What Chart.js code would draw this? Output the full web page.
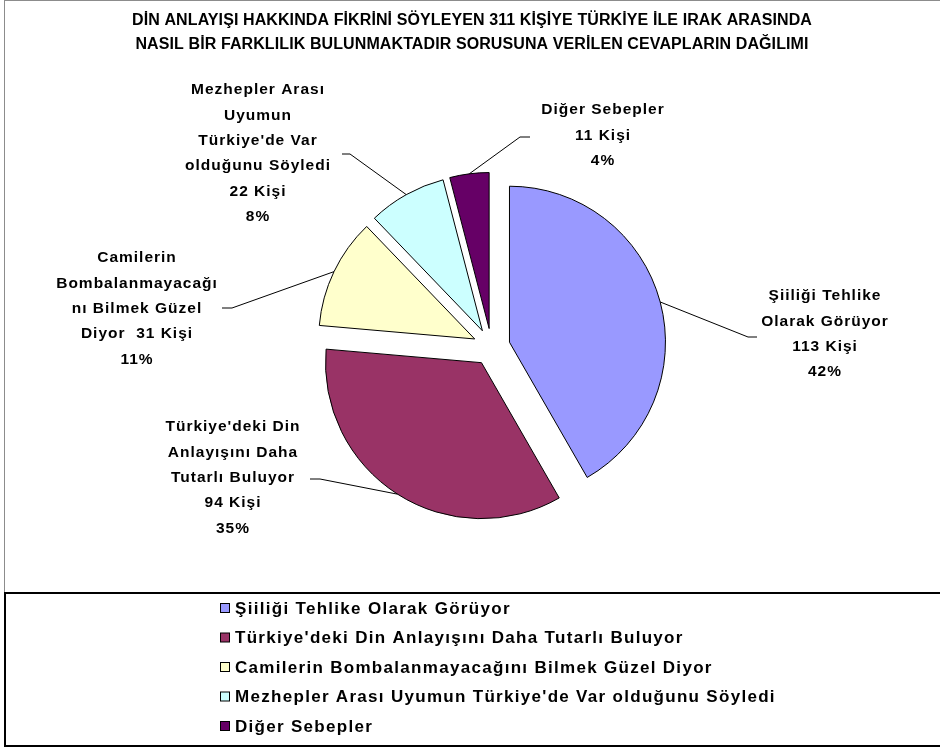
<!DOCTYPE html>
<html lang="tr">
<head>
<meta charset="utf-8">
<title>Din Anlayışı Dağılımı</title>
<script src="https://cdn.jsdelivr.net/npm/chart.js@4.4.7/dist/chart.umd.min.js"></script>
<style>
  html, body { margin: 0; padding: 0; background: #fff; }
  #wrap { position: relative; width: 940px; height: 749px; }
</style>
</head>
<body>
<div id="wrap"><canvas id="pieChart" width="940" height="749"></canvas></div>
<script>
// ===== データ =====
const categories = [
  'Şiiliği Tehlike Olarak Görüyor',
  "Türkiye'deki Din Anlayışını Daha Tutarlı Buluyor",
  'Camilerin Bombalanmayacağını Bilmek Güzel Diyor',
  "Mezhepler Arası Uyumun Türkiye'de Var olduğunu Söyledi",
  'Diğer Sebepler'
];
const counts = [113, 94, 31, 22, 11];
const sliceColors = ['#9999FF', '#993366', '#FFFFCC', '#CCFFFF', '#660066'];
const titleLines = [
  'DİN ANLAYIŞI HAKKINDA FİKRİNİ SÖYLEYEN 311 KİŞİYE TÜRKİYE İLE IRAK ARASINDA',
  'NASIL BİR FARKLILIK BULUNMAKTADIR SORUSUNA VERİLEN CEVAPLARIN DAĞILIMI'
];
// {n} = kişi sayısı, {p} = yüzde
const calloutText = [
  ['Şiiliği Tehlike', 'Olarak Görüyor', '{n} Kişi', '{p}'],
  ["Türkiye'deki Din", 'Anlayışını Daha', 'Tutarlı Buluyor', '{n} Kişi', '{p}'],
  ['Camilerin', 'Bombalanmayacağı', 'nı Bilmek Güzel', 'Diyor  {n} Kişi', '{p}'],
  ['Mezhepler Arası', 'Uyumun', "Türkiye'de Var", 'olduğunu Söyledi', '{n} Kişi', '{p}'],
  ['Diğer Sebepler', '{n} Kişi', '{p}']
];

// ===== レイアウト =====
const FONT = '"Liberation Sans", Arial, sans-serif';
const EXPLODE = 18.6;
const LINE_H = 25.4;
// 注記の位置（中心x, 1行目y）と引出線の折れ点・終点
const calloutLayout = [
  { x: 825, y: 296, elbow: [748, 337], end: [757, 337] },
  { x: 233, y: 427, elbow: [320, 479], end: [310, 479] },
  { x: 137, y: 258, elbow: [232, 308], end: [222, 308] },
  { x: 258, y: 90,  elbow: [350, 154], end: [342, 154] },
  { x: 603, y: 110, elbow: [520, 137], end: [530, 137] }
];

const total = counts.reduce((a, b) => a + b, 0);
const pct = v => Math.round(v / total * 100) + '%';

// ===== 切り離し（各スライスを中心角方向へずらす） =====
const explodePlugin = {
  id: 'explode',
  afterDatasetsUpdate(chart) {
    chart.getDatasetMeta(0).data.forEach(arc => {
      const mid = (arc.startAngle + arc.endAngle) / 2;
      arc.x += Math.cos(mid) * EXPLODE;
      arc.y += Math.sin(mid) * EXPLODE;
    });
  }
};

// ===== 枠・タイトル・凡例 =====
const framePlugin = {
  id: 'frame',
  beforeDraw(chart) {
    const c = chart.ctx;
    c.save();
    c.fillStyle = '#fff';
    c.fillRect(0, 0, chart.width, chart.height);
    c.strokeStyle = '#8c8c8c';
    c.lineWidth = 1;
    c.strokeRect(4.5, 0.5, chart.width + 10, 746);
    c.restore();
  },
  afterDraw(chart) {
    const c = chart.ctx;
    c.save();
    // タイトル
    c.fillStyle = '#000';
    c.font = 'bold 16px ' + FONT;
    c.letterSpacing = '0.1px';
    c.textAlign = 'center';
    c.textBaseline = 'middle';
    c.fillText(titleLines[0], 472, 21);
    c.fillText(titleLines[1], 472, 45);

    // 凡例ボックス
    c.strokeStyle = '#000';
    c.lineWidth = 2;
    c.strokeRect(5, 593, chart.width + 10, 153);

    c.font = 'bold 17px ' + FONT;
    c.letterSpacing = '1.3px';
    c.textAlign = 'left';
    categories.forEach((name, i) => {
      const y = 608 + i * 29.5;
      c.fillStyle = sliceColors[i];
      c.fillRect(220.5, y - 4.5, 9, 9);
      c.lineWidth = 1;
      c.strokeRect(220.5, y - 4.5, 9, 9);
      c.fillStyle = '#000';
      c.fillText(name, 235, y + 1);
    });
    c.restore();
  }
};

// ===== データラベルと引出線 =====
const calloutPlugin = {
  id: 'callouts',
  afterDatasetsDraw(chart) {
    const c = chart.ctx;
    const arcs = chart.getDatasetMeta(0).data;
    c.save();
    c.strokeStyle = '#000';
    c.lineWidth = 1;
    c.fillStyle = '#000';
    c.font = 'bold 15.5px ' + FONT;
    c.letterSpacing = '1px';
    c.textAlign = 'center';
    c.textBaseline = 'middle';
    arcs.forEach((arc, i) => {
      const lay = calloutLayout[i];
      const mid = (arc.startAngle + arc.endAngle) / 2;
      const sx = arc.x + Math.cos(mid) * arc.outerRadius;
      const sy = arc.y + Math.sin(mid) * arc.outerRadius;
      c.beginPath();
      c.moveTo(sx, sy);
      c.lineTo(lay.elbow[0], lay.elbow[1]);
      c.lineTo(lay.end[0], lay.end[1]);
      c.stroke();
      calloutText[i].forEach((line, k) => {
        const txt = line.replace('{n}', counts[i]).replace('{p}', pct(counts[i]));
        c.fillText(txt, lay.x, lay.y + k * LINE_H);
      });
    });
    c.restore();
  }
};

// ===== 円グラフ =====
function createPieChart() {
  const ctx = document.getElementById('pieChart').getContext('2d');
  new Chart(ctx, {
    type: 'pie',
    data: {
      labels: categories,
      datasets: [{
        data: counts,
        backgroundColor: sliceColors,
        borderColor: '#000',
        borderWidth: 1,
        borderJoinStyle: 'miter',
        radius: 156
      }]
    },
    options: {
      responsive: false,
      animation: false,
      events: [],
      layout: { padding: { left: 143, right: 100, top: 150, bottom: 205 } },
      plugins: {
        legend: { display: false },
        tooltip: { enabled: false },
        title: { display: false }
      }
    },
    plugins: [explodePlugin, framePlugin, calloutPlugin]
  });
}

createPieChart();
</script>
</body>
</html>
